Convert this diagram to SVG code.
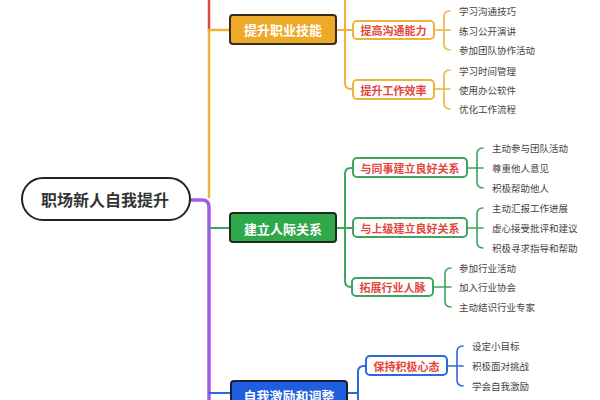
<svg xmlns="http://www.w3.org/2000/svg" width="600" height="400" viewBox="0 0 600 400">
<style>
text{font-family:"Noto Sans CJK SC","Noto Sans",sans-serif;dominant-baseline:central}
.root{font-size:16px;font-weight:bold;fill:#333;text-anchor:middle}
.main{font-size:13px;font-weight:bold;fill:#fff;text-anchor:middle}
.sub{font-size:11px;font-weight:bold;fill:#E2463C;text-anchor:middle}
.leaf{font-size:9.5px;fill:#444}
.ln{fill:none;stroke-linecap:round;stroke-linejoin:round}
.o{stroke:#F0B23E}
.g{stroke:#3EA45E}
.b{stroke:#2F68D8}
</style>
<rect width="600" height="400" fill="#fff"/>
<g id="connectors">
<path class="ln" d="M209,-5 L209,31" stroke="#DC4A40" stroke-width="2.5"/>
<path class="ln o" d="M209,197 L209,30 M209,30 L230,30" stroke-width="2.5"/>
<path class="ln" d="M190,200 L202,200 Q209,200 209,207 L209,405" stroke="#A45BE6" stroke-width="3.5"/>
<path class="ln g" d="M209,228 L230,228" stroke-width="1.8"/>
<path class="ln b" d="M209,393 L231,393" stroke-width="1.8"/>
<path class="ln o" d="M336,30 L353,30 M345,-5 L345,83 Q345,89 351,89 L353,89" stroke-width="2"/>
<path class="ln o" d="M434,30 L450,30 M450,11 Q444,11 444,17 L444,44 Q444,50 450,50" stroke-width="1.6"/>
<path class="ln o" d="M434,89 L450,89 M450,70 Q444,70 444,76 L444,103 Q444,109 450,109" stroke-width="1.6"/>
<path class="ln g" d="M336,228 L353,228 M353,168 L351,168 Q345,168 345,174 L345,281 Q345,287 351,287 L352,287" stroke-width="2"/>
<path class="ln g" d="M467,168 L483,168 M483,148 Q477,148 477,154 L477,182 Q477,188 483,188" stroke-width="1.6"/>
<path class="ln g" d="M467,228 L483,228 M483,208 Q477,208 477,214 L477,242 Q477,248 483,248" stroke-width="1.6"/>
<path class="ln g" d="M433,287 L451,287 M451,268 Q445,268 445,274 L445,301 Q445,307 451,307" stroke-width="1.6"/>
<path class="ln b" d="M347,393 L358,393 M366,366 L364,366 Q358,366 358,372 L358,405" stroke-width="2"/>
<path class="ln b" d="M447,366 L463,366 M463,346 Q457,346 457,352 L457,380 Q457,386 463,386" stroke-width="1.6"/>
</g>
<g id="root">
<rect x="22" y="178" width="168" height="42" rx="21" fill="#fff" stroke="#222" stroke-width="2"/>
<text class="root" x="105" y="199">职场新人自我提升</text>
</g>
<g id="n-skill">
<rect x="230" y="15" width="106" height="29" rx="3" fill="#EDA929" stroke="#3a2a1a" stroke-width="2"/>
<text class="main" x="283" y="29.5">提升职业技能</text>
</g>
<g id="n-comm">
<rect x="353" y="21" width="81" height="18" rx="4" fill="#fff" stroke="#F0B23E" stroke-width="2"/>
<text class="sub" x="393.5" y="30">提高沟通能力</text>
</g>
<g id="n-eff">
<rect x="353" y="80" width="81" height="19" rx="4" fill="#fff" stroke="#F0B23E" stroke-width="2"/>
<text class="sub" x="393.5" y="89.5">提升工作效率</text>
</g>
<g id="leaves-skill">
<text class="leaf" x="459" y="11">学习沟通技巧</text>
<text class="leaf" x="459" y="31">练习公开演讲</text>
<text class="leaf" x="459" y="50">参加团队协作活动</text>
<text class="leaf" x="459" y="71">学习时间管理</text>
<text class="leaf" x="459" y="90">使用办公软件</text>
<text class="leaf" x="459" y="109">优化工作流程</text>
</g>
<g id="n-rel">
<rect x="230" y="213" width="106" height="29" rx="3" fill="#2FA84C" stroke="#1d2a1d" stroke-width="2"/>
<text class="main" x="283" y="228">建立人际关系</text>
</g>
<g id="n-peer">
<rect x="353" y="158" width="114" height="19" rx="4" fill="#fff" stroke="#3EA45E" stroke-width="2"/>
<text class="sub" x="410" y="168">与同事建立良好关系</text>
</g>
<g id="n-boss">
<rect x="353" y="218" width="114" height="19" rx="4" fill="#fff" stroke="#3EA45E" stroke-width="2"/>
<text class="sub" x="410" y="228">与上级建立良好关系</text>
</g>
<g id="n-net">
<rect x="352" y="278" width="81" height="18" rx="4" fill="#fff" stroke="#3EA45E" stroke-width="2"/>
<text class="sub" x="392.5" y="287">拓展行业人脉</text>
</g>
<g id="leaves-rel">
<text class="leaf" x="492" y="148">主动参与团队活动</text>
<text class="leaf" x="492" y="168">尊重他人意见</text>
<text class="leaf" x="492" y="188">积极帮助他人</text>
<text class="leaf" x="492" y="208">主动汇报工作进展</text>
<text class="leaf" x="492" y="228">虚心接受批评和建议</text>
<text class="leaf" x="492" y="248">积极寻求指导和帮助</text>
<text class="leaf" x="459" y="268">参加行业活动</text>
<text class="leaf" x="459" y="287">加入行业协会</text>
<text class="leaf" x="459" y="307">主动结识行业专家</text>
</g>
<g id="n-motiv">
<rect x="231" y="381" width="116" height="30" rx="3" fill="#1F5EE0" stroke="#1a1f33" stroke-width="2"/>
<text class="main" x="289" y="395">自我激励和调整</text>
</g>
<g id="n-pos">
<rect x="366" y="356" width="81" height="19" rx="4" fill="#fff" stroke="#2F68D8" stroke-width="2"/>
<text class="sub" x="406.5" y="366">保持积极心态</text>
</g>
<g id="leaves-motiv">
<text class="leaf" x="472" y="346">设定小目标</text>
<text class="leaf" x="472" y="366">积极面对挑战</text>
<text class="leaf" x="472" y="386">学会自我激励</text>
</g>
</svg>
